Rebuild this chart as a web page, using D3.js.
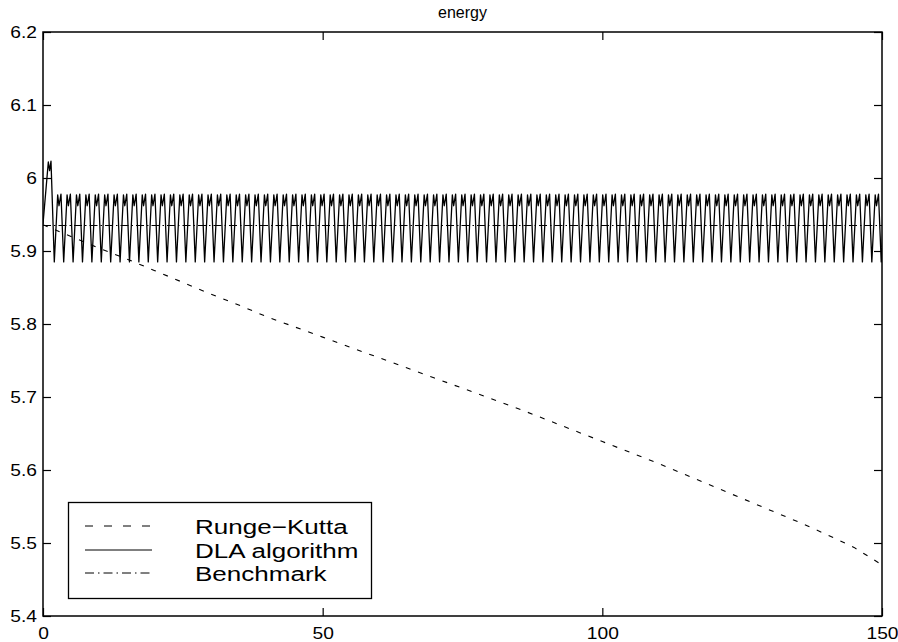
<!DOCTYPE html>
<html>
<head>
<meta charset="utf-8">
<script src="https://cdn.jsdelivr.net/npm/d3@7"></script>
<style>
  body { margin: 0; background: #fff; }
  svg { display: block; font-family: "Liberation Sans", Arial, sans-serif; }
</style>
</head>
<body>
<div id="chart"></div>
<script>
const width = 898;
const height = 642;
const margin = { top: 32, right: 16, bottom: 26, left: 43 };

const title = "energy";
const xTicks = [0, 50, 100, 150];
const yTicks = [5.4, 5.5, 5.6, 5.7, 5.8, 5.9, 6.0, 6.1, 6.2];
const legendLabels = ["Runge\u2212Kutta", "DLA algorithm", "Benchmark"];

// Runge-Kutta energy, read every 5 time units
const rkTime = [0, 5, 10, 15, 20, 25, 30, 35, 40, 45, 50, 55, 60, 65, 70, 75,
  80, 85, 90, 95, 100, 105, 110, 115, 120, 125, 130, 135, 140, 145, 150];
const rkEnergy = [5.936, 5.920, 5.904, 5.889, 5.873, 5.857, 5.841, 5.826, 5.810,
  5.796, 5.782, 5.768, 5.754, 5.740, 5.726, 5.712, 5.698, 5.684, 5.669, 5.654,
  5.639, 5.624, 5.609, 5.593, 5.577, 5.561, 5.545, 5.529, 5.512, 5.494, 5.470];

// benchmark is flat
const benchTime = [0, 150];
const benchEnergy = [5.935, 5.935];

// DLA: start-up bump, then one cycle per trough
const dlaStart = [[0, 5.937], [0.95, 6.022], [1.18, 6.010], [1.43, 6.023]];
const dlaTroughTimes = [2.02, 3.70, 5.38, 7.06, 8.74, 10.42, 12.10, 13.78, 15.46,
  17.14, 18.82, 20.50, 22.18, 23.86, 25.54, 27.22, 28.90, 30.58, 32.26, 33.94,
  35.62, 37.30, 38.98, 40.66, 42.34, 44.02, 45.70, 47.38, 49.06, 50.74, 52.42,
  54.10, 55.78, 57.46, 59.14, 60.82, 62.50, 64.18, 65.86, 67.54, 69.22, 70.90,
  72.58, 74.26, 75.94, 77.62, 79.30, 80.98, 82.66, 84.34, 86.02, 87.70, 89.38,
  91.06, 92.74, 94.42, 96.10, 97.78, 99.46, 101.14, 102.82, 104.50, 106.18,
  107.86, 109.54, 111.22, 112.90, 114.58, 116.26, 117.94, 119.62, 121.30, 122.98,
  124.66, 126.34, 128.02, 129.70, 131.38, 133.06, 134.74, 136.42, 138.10, 139.78,
  141.46, 143.14, 144.82, 146.50, 148.18, 149.86];
const dlaTrough = 5.885;
// [fraction of cycle, energy]: first peak, notch, second peak
const dlaCycle = [[0.36, 5.977], [0.5, 5.962], [0.71, 5.978]];

const dlaPoints = dlaStart.slice();
dlaTroughTimes.forEach((t, i) => {
  const next = i < dlaTroughTimes.length - 1 ? dlaTroughTimes[i + 1] : t + (t - dlaTroughTimes[i - 1]);
  const span = next - t;
  dlaPoints.push([t, dlaTrough]);
  dlaCycle.forEach(([f, v]) => dlaPoints.push([t + f * span, v]));
  if (i === dlaTroughTimes.length - 1) dlaPoints.push([next, dlaTrough]);
});

const x = d3.scaleLinear().domain([0, 150]).range([margin.left, width - margin.right]);
const y = d3.scaleLinear().domain([5.4, 6.2]).range([height - margin.bottom, margin.top]);

const svg = d3.select("#chart").append("svg")
  .attr("width", width)
  .attr("height", height);

svg.append("defs").append("clipPath").attr("id", "plot")
  .append("rect")
  .attr("x", x(0)).attr("y", y(6.2))
  .attr("width", x(150) - x(0)).attr("height", y(5.4) - y(6.2));

const fmt = d => String(+d.toFixed(1));
const tickLen = 8;

// axes, ticks pointing inward
const gx = svg.append("g")
  .attr("transform", `translate(0,${y(5.4)})`)
  .call(d3.axisBottom(x).tickValues(xTicks).tickSize(-tickLen).tickPadding(12).tickFormat(fmt));
svg.append("g")
  .attr("transform", `translate(0,${y(6.2)})`)
  .call(d3.axisTop(x).tickValues(xTicks).tickSize(-tickLen).tickFormat(""));
const gy = svg.append("g")
  .attr("transform", `translate(${x(0)},0)`)
  .call(d3.axisLeft(y).tickValues(yTicks).tickSize(-tickLen).tickPadding(6).tickFormat(fmt));
svg.append("g")
  .attr("transform", `translate(${x(150)},0)`)
  .call(d3.axisRight(y).tickValues(yTicks).tickSize(-tickLen).tickFormat(""));

svg.selectAll(".domain").remove();
svg.selectAll(".tick line").attr("stroke", "#000").attr("stroke-width", 1.2);
svg.selectAll(".tick text")
  .attr("fill", "#000")
  .attr("font-size", 16)
  .attr("font-family", "Liberation Sans, Arial, sans-serif");

// stretch tick labels sideways like the original
gy.selectAll(".tick text")
  .attr("x", null)
  .attr("transform", "translate(-6,0) scale(1.2,1)");
gx.selectAll(".tick text")
  .attr("y", null)
  .attr("transform", "translate(0,12) scale(1.2,1)");

svg.append("rect")
  .attr("x", x(0)).attr("y", y(6.2))
  .attr("width", x(150) - x(0)).attr("height", y(5.4) - y(6.2))
  .attr("fill", "none")
  .attr("stroke", "#000")
  .attr("stroke-width", 1.5);

svg.append("text")
  .attr("x", (x(0) + x(150)) / 2)
  .attr("y", 18)
  .attr("text-anchor", "middle")
  .attr("font-size", 16)
  .text(title);

const line = d3.line().x(d => x(d[0])).y(d => y(d[1]));
const plot = svg.append("g").attr("clip-path", "url(#plot)");

const series = [
  { points: d3.zip(rkTime, rkEnergy), dash: "5,8", legendDash: "8,11" },
  { points: dlaPoints, dash: null, legendDash: null },
  { points: d3.zip(benchTime, benchEnergy), dash: "8,3,1.5,3", legendDash: "9,4,1.5,4" },
];

plot.selectAll("path.series")
  .data(series)
  .join("path")
  .attr("class", "series")
  .attr("fill", "none")
  .attr("stroke", "#000")
  .attr("stroke-width", (d, i) => i === 1 ? 1.3 : 1.1)
  .attr("stroke-linejoin", "round")
  .attr("stroke-dasharray", d => d.dash)
  .attr("d", d => line(d.points));

// legend
const legend = svg.append("g");
legend.append("rect")
  .attr("x", 68.5).attr("y", 502.5)
  .attr("width", 303).attr("height", 96)
  .attr("fill", "#fff")
  .attr("stroke", "#000")
  .attr("stroke-width", 1.3);

const rowY = [526, 550, 573];
legend.selectAll("line")
  .data(series)
  .join("line")
  .attr("x1", 85).attr("x2", 152)
  .attr("y1", (d, i) => rowY[i]).attr("y2", (d, i) => rowY[i])
  .attr("stroke", "#000")
  .attr("stroke-dasharray", d => d.legendDash);

legend.selectAll("text")
  .data(legendLabels)
  .join("text")
  .attr("transform", (d, i) => `translate(195,${rowY[i] + 8}) scale(1.24,1)`)
  .attr("font-size", 21)
  .text(d => d);
</script>
</body>
</html>
